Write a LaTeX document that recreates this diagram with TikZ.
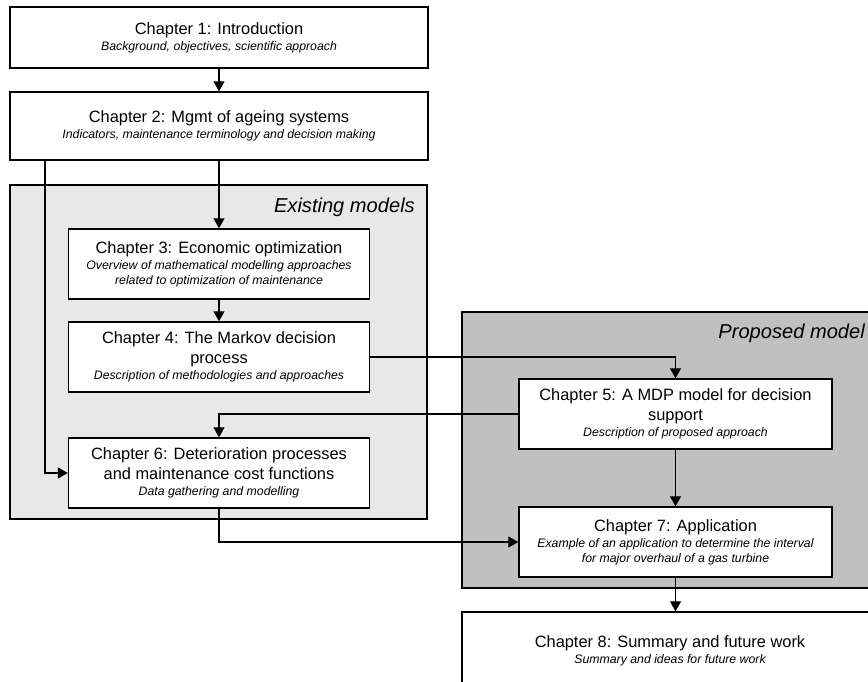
\documentclass[tikz,border=0pt]{standalone}
\usepackage{fontspec}
\setmainfont{Liberation Sans}
\usetikzlibrary{arrows.meta}
\definecolor{existfill}{HTML}{E8E8E8}
\definecolor{propfill}{HTML}{C0C0C0}
\newcommand\chsub[1]{{\fontsize{12.3}{20}\itshape #1}}
\begin{document}
\begin{tikzpicture}[x=1pt,y=-1pt,
  chapbox/.style={draw, fill=white, line width=1.4pt, inner sep=0pt, align=center,
    font=\fontsize{16.4}{20}\selectfont},
  groupbox/.style={draw, line width=1.4pt, inner sep=0pt},
  grouplabel/.style={font=\fontsize{20.1}{24}\selectfont\itshape, inner sep=0pt},
  arr/.style={-{Triangle[length=10pt,width=11pt]}, line width=1.3pt}]
\useasboundingbox (0,0) rectangle (868,681);
\clip (0,0) rectangle (868,681);

% group panels
\node[groupbox, fill=existfill, minimum width=417pt, minimum height=334pt] (exist) at (218.5,352) {};
\node[groupbox, fill=propfill, minimum width=416pt, minimum height=276pt] (prop) at (670,450) {};
\node[grouplabel, anchor=base east] (existlbl) at (415,212) {Existing models};
\node[grouplabel, anchor=base east] (proplbl) at (865,338) {Proposed model};

% chapters
\node[chapbox, minimum width=418pt, minimum height=61pt] (c1) at (219,37.5)
  {Chapter 1: Introduction\\[-4pt]\chsub{Background, objectives, scientific approach}};
\node[chapbox, minimum width=418pt, minimum height=68pt] (c2) at (219,126)
  {Chapter 2: Mgmt of ageing systems\\[-4pt]\chsub{Indicators, maintenance terminology and decision making}};
\node[chapbox, minimum width=301pt, minimum height=70pt] (c3) at (219,264)
  {Chapter 3: Economic optimization\\[-4pt]\chsub{Overview of mathematical modelling approaches}\\[-5pt]\chsub{related to optimization of maintenance}};
\node[chapbox, minimum width=301pt, minimum height=70pt] (c4) at (219,357)
  {Chapter 4: The Markov decision\\process\\[-4pt]\chsub{Description of methodologies and approaches}};
\node[chapbox, minimum width=301pt, minimum height=70pt] (c6) at (219,473)
  {Chapter 6: Deterioration processes\\and maintenance cost functions\\[-4pt]\chsub{Data gathering and modelling}};
\node[chapbox, minimum width=313pt, minimum height=70pt] (c5) at (675.5,414)
  {Chapter 5: A MDP model for decision\\support\\[-4pt]\chsub{Description of proposed approach}};
\node[chapbox, minimum width=313pt, minimum height=70pt] (c7) at (675.5,542)
  {Chapter 7: Application\\[-4pt]\chsub{Example of an application to determine the interval}\\[-5pt]\chsub{for major overhaul of a gas turbine}};
\node[chapbox, minimum width=416pt, minimum height=78pt] (c8) at (670,651)
  {Chapter 8: Summary and future work\\[-4pt]\chsub{Summary and ideas for future work}};

% connectors
\coordinate (leftrail) at (45,0);
\draw[arr] (c1) -- (c2);
\draw[arr] (c2) -- (c3);
\draw[arr] (c2.south -| leftrail) |- (c6.west);
\draw[arr] (c3) -- (c4);
\draw[arr] (c4.east) -| (c5.north);
\draw[arr] (c5.west) -| (c6.north);
\draw[arr] (c6.south) |- (c7.west);
\draw[arr] (c5) -- (c7);
\draw[arr] (c7.south) -- (c7.south |- c8.north);
\end{tikzpicture}
\end{document}
